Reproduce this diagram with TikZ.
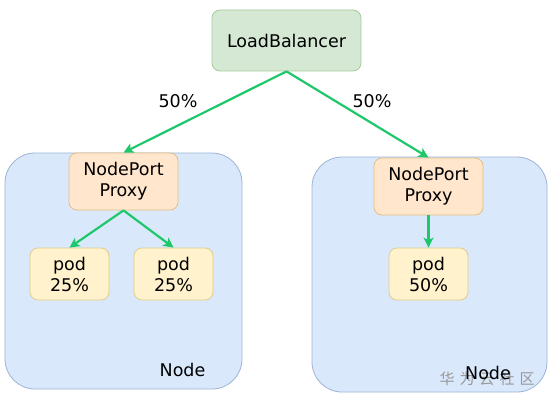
\documentclass[tikz,border=0pt]{standalone}
\usepackage{fontspec}
\setmainfont{DejaVu Sans}
\newfontfamily\cjkfont{Noto Sans CJK SC}
\usetikzlibrary{arrows.meta}
\definecolor{lbfill}{HTML}{D5E8D4}
\definecolor{lbdraw}{HTML}{A8C99A}
\definecolor{pxfill}{HTML}{FFE6CC}
\definecolor{pxdraw}{HTML}{E3BE85}
\definecolor{podfill}{HTML}{FFF2CC}
\definecolor{poddraw}{HTML}{E2CC8A}
\definecolor{ndfill}{HTML}{DAE8FC}
\definecolor{nddraw}{HTML}{9DB4D6}
\definecolor{arr}{HTML}{1EC86A}
\begin{document}
\begin{tikzpicture}[x=1pt,y=-1pt,
  box/.style={rounded corners=8pt, line width=0.8pt, align=center, inner sep=0pt,
    font=\fontsize{17.5}{21}\selectfont},
  lbbox/.style={box, fill=lbfill, draw=lbdraw, minimum width=149pt, minimum height=61pt},
  pxbox/.style={box, fill=pxfill, draw=pxdraw, minimum width=109pt, minimum height=57pt},
  podbox/.style={box, fill=podfill, draw=poddraw, minimum width=79pt, minimum height=52pt},
  ndbox/.style={rounded corners=30pt, fill=ndfill, draw=nddraw, line width=0.8pt},
  flow/.style={draw=arr, line width=2.2pt, -{Stealth[length=10pt,width=10pt,inset=2.5pt]}},
  lbl/.style={font=\fontsize{17.5}{21}\selectfont, inner sep=0pt}
]
\useasboundingbox (0,0) rectangle (554,404);
\fill[white] (0,0) rectangle (554,404);
% containers
\draw[ndbox] (5,153) rectangle (242,389);
\draw[ndbox] (312,157) rectangle (547,392);
% nodes
\node[lbbox] (lb) at (286.5,40.5) {LoadBalancer};
\node[pxbox] (px1) at (123.5,181.5) {NodePort\\Proxy};
\node[pxbox] (px2) at (428.5,186.5) {NodePort\\Proxy};
\node[podbox] (pod1) at (69.5,274) {pod\\25\%};
\node[podbox] (pod2) at (173.5,274) {pod\\25\%};
\node[podbox] (pod3) at (428.5,274) {pod\\50\%};
% labels
\node[lbl] (p1) at (178,101) {50\%};
\node[lbl] (p2) at (372,101) {50\%};
\node[text=black!40, font=\cjkfont\fontsize{15}{18}\selectfont, inner sep=0pt] (wm) at (487,379) {华\,\,为\,\,云\,\,社\,\,区};
\node[lbl] (n1) at (182.5,370) {Node};
\node[lbl] (n2) at (488,373) {Node};
% connectors
\draw[flow] (lb.south) -- (px1.north);
\draw[flow] (lb.south) -- (px2.north);
\draw[flow] (px1.south) -- (pod1.north);
\draw[flow] (px1.south) -- (pod2.north);
\draw[flow] (px2.south) -- (pod3.north);
\end{tikzpicture}
\end{document}
